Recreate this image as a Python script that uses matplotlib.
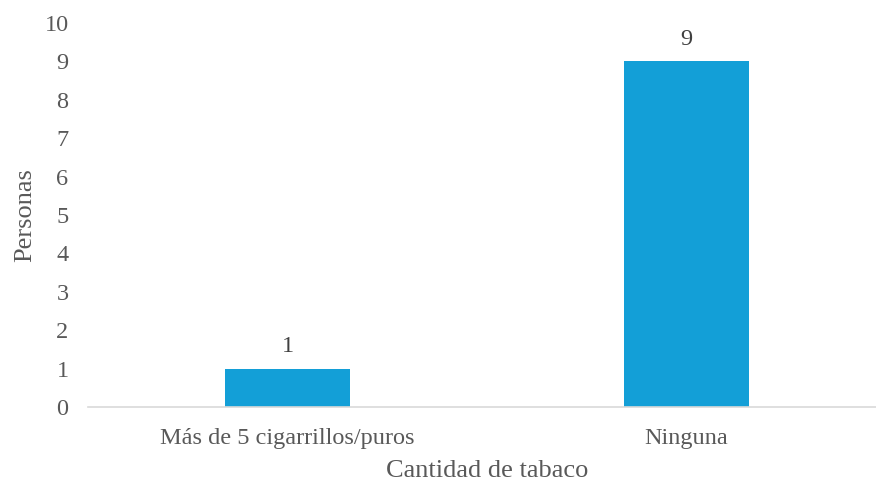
import matplotlib
matplotlib.use("Agg")
import matplotlib.pyplot as plt

categories = ["Más de 5 cigarrillos/puros", "Ninguna"]
values = [1, 9]

BAR = "#139FD7"
TXT = "#595959"

plt.rcParams["font.family"] = ["Liberation Serif", "DejaVu Serif"]

fig = plt.figure(figsize=(8.76, 4.82), dpi=100)
ax = fig.add_axes([88 / 876, 75 / 482, 798 / 876, 384 / 482])

x = range(len(categories))
bars = ax.bar(x, values, width=0.313, color=BAR, zorder=2)
for b, v in zip(bars, values):
    ax.text(b.get_x() + b.get_width() / 2, v + 0.3, str(v), ha="center", va="bottom",
            fontsize=17.5, color="#404040")

ax.set_xlim(-0.5, 1.5)
ax.set_ylim(0, 10)
ax.set_yticks(range(0, 11))
ax.set_xticks(list(x))
ax.set_xticklabels(categories)
ax.tick_params(axis="both", length=0, labelsize=17.5, colors=TXT)
ax.tick_params(axis="y", pad=14)
ax.tick_params(axis="x", pad=15)

for s in ("top", "right", "left"):
    ax.spines[s].set_visible(False)
ax.spines["bottom"].set_color("#D9D9D9")
ax.spines["bottom"].set_linewidth(1.2)

ax.set_ylabel("Personas", fontsize=19, color=TXT, labelpad=6)
ax.set_xlabel("Cantidad de tabaco", fontsize=19, color=TXT, labelpad=8)

fig.savefig("out.png", dpi=100)
